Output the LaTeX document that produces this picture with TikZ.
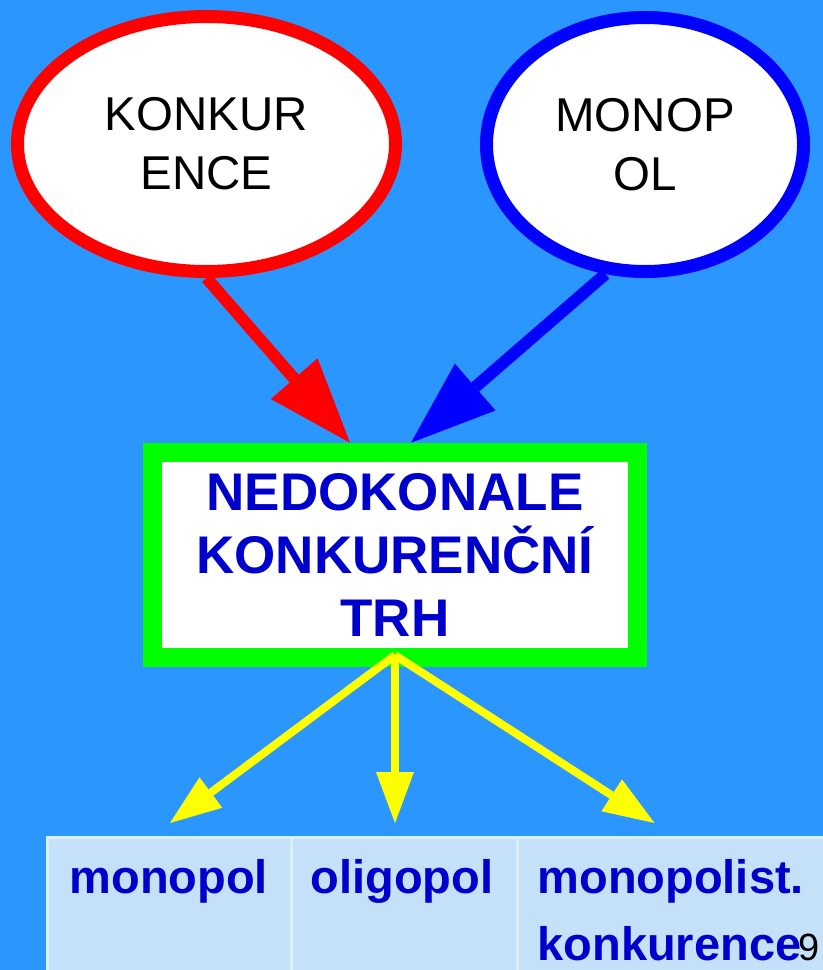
\documentclass[tikz,border=0pt]{standalone}
\usepackage{fontspec}
\setmainfont{Liberation Sans}
\usetikzlibrary{shapes.geometric,arrows.meta,positioning,calc}

\definecolor{bgblue}{RGB}{44,150,255}
\definecolor{txtblue}{RGB}{0,0,204}
\definecolor{cellfill}{RGB}{197,225,250}
\definecolor{cellline}{RGB}{218,240,246}

\tikzset{every picture/.style={line width=0.75pt}}

\begin{document}
\begin{tikzpicture}[x=0.75pt,y=0.75pt,yscale=-1,xscale=1,
  oval/.style={ellipse, fill=white, line width=9.75pt, inner sep=0pt, align=center,
    font=\fontsize{35.6pt}{44.25pt}\selectfont},
  marketbox/.style={rectangle, draw={rgb,255:red,0;green,255;blue,0}, fill=white,
    line width=14.25pt, inner sep=0pt, align=center, text=txtblue,
    minimum width=363.75pt, minimum height=154.1pt,
    font=\bfseries\fontsize{39.75pt}{47.6pt}\selectfont},
  cellbox/.style={rectangle, draw=cellline, fill=cellfill, line width=2.25pt,
    inner sep=0pt, outer sep=0pt, anchor=north west, minimum height=114.75pt},
  celltext/.style={anchor=base west, inner sep=0pt, align=left, text=txtblue,
    font=\bfseries\fontsize{35.25pt}{50.25pt}\selectfont},
  bigarrow/.style={line width=9pt, -{Triangle[length=63.75pt,width=46.5pt,line width=0pt]}},
  yelarrow/.style={draw={rgb,255:red,255;green,255;blue,0}, line width=6pt,
    -{Triangle[length=38.25pt,width=28.5pt,line width=0pt]}}]

\useasboundingbox (0,0) rectangle (823,970);
% background
\fill[bgblue] (0,0) rectangle (823,970);

% ovals
\node[oval, draw={rgb,255:red,255;green,0;blue,0}, minimum width=283.5pt, minimum height=191.25pt]
  (konk) at (206.5,144) {KONKUR\\ENCE};
\node[oval, draw={rgb,255:red,0;green,0;blue,255}, minimum width=237.75pt, minimum height=190.5pt]
  (mono) at (645,144.5) {MONOP\\OL};

% market box
\node[marketbox] (trh) at (395,555) {NEDOKONALE\\KONKURENČNÍ\\TRH};

% table of market types
\node[cellbox, minimum width=183pt] (cmono) at (47,837) {};
\node[cellbox, minimum width=169.5pt] (coligo) at (cmono.north east) {};
\node[cellbox, minimum width=237pt] (cmk) at (coligo.north east) {};

\node[celltext] (tmono) at ($(cmono.north west)+(22,56)$) {monopol};
\node[celltext] (toligo) at ($(coligo.north west)+(19,56)$) {oligopol};
\node[celltext] (tmk) at ($(cmk.north west)+(20,123)$) {monopolist.\\konkurence};

% arrows into the box
\draw[bigarrow, draw={rgb,255:red,255;green,0;blue,0}, fill={rgb,255:red,255;green,0;blue,0}]
  (konk.south) -- ($(trh.north)+(-45,0)$);
\draw[bigarrow, draw={rgb,255:red,0;green,0;blue,255}, fill={rgb,255:red,0;green,0;blue,255}]
  (mono.253) -- ($(trh.north)+(16,0)$);

% arrows out of the box
\draw[yelarrow] ($(trh.south)+(0,-12)$) -- ($(cmono.north)+(1,-14)$);
\draw[yelarrow] ($(trh.south)+(0,-12)$) -- ($(coligo.north)+(-9,-14)$);
\draw[yelarrow] ($(trh.south)+(0,-12)$) -- ($(cmk.north)+(-20.5,-14)$);

% page number
\node[anchor=base west, inner sep=0pt, font=\fontsize{28.5pt}{32pt}\selectfont] (pgnum) at (798,960) {9};

\end{tikzpicture}
\end{document}
